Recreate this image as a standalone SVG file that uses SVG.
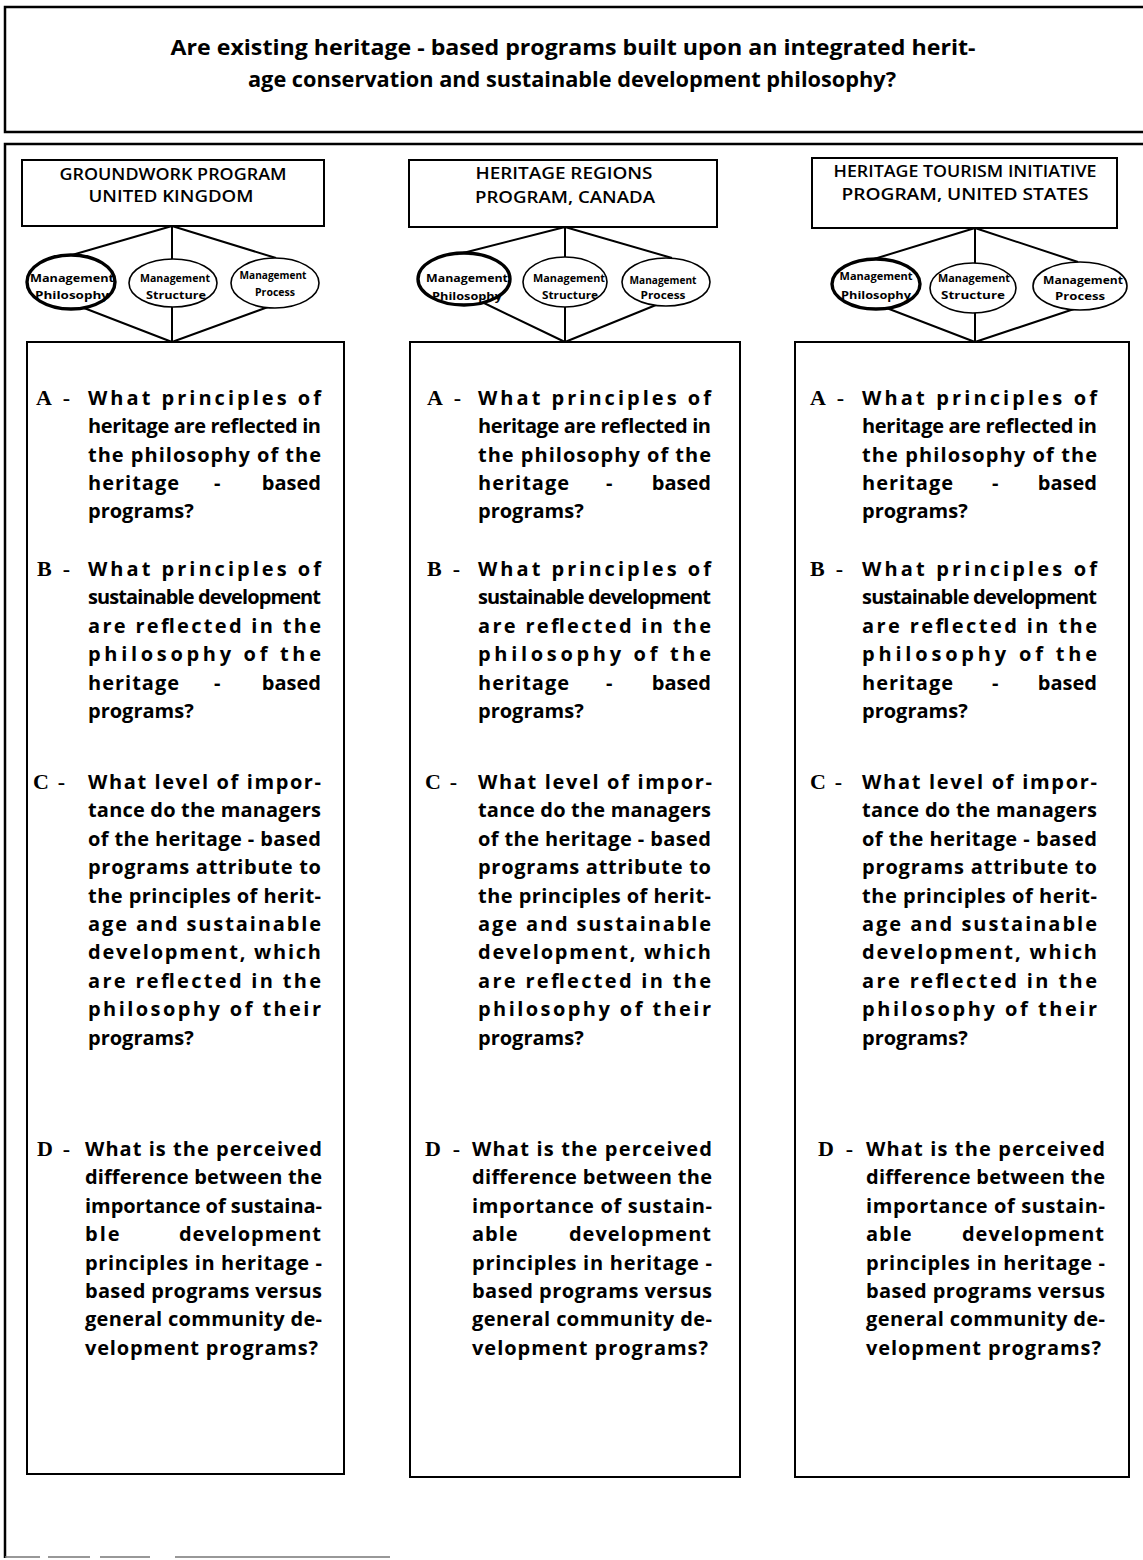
<svg xmlns="http://www.w3.org/2000/svg" width="1143" height="1560" viewBox="0 0 1143 1560">
  <style>
    .frame { fill: none; stroke: #000; stroke-width: 2.5; }
    .foot { fill: none; stroke: #777; stroke-width: 1.5; }
    .box { fill: #fff; stroke: #000; stroke-width: 2; }
    .ell { fill: #fff; stroke: #000; stroke-width: 1.6; }
    .ell.key { stroke-width: 3.4; }
    .link { fill: none; stroke: #000; stroke-width: 2; }
    text { fill: #000; }
    .title { font-family: "Open Sans", "Liberation Sans", sans-serif; font-weight: 700; font-size: 22px; text-anchor: middle; }
    .head { font-family: "Open Sans", "Liberation Sans", sans-serif; font-weight: 600; font-size: 16px; text-anchor: middle; }
    .el { font-family: "Open Sans", "Liberation Sans", sans-serif; font-weight: 700; font-size: 11px; text-anchor: middle; }
    .q { font-family: "Open Sans", "Liberation Sans", sans-serif; font-weight: 700; font-size: 20px; }
    .mk { font-family: "Liberation Serif", "Times New Roman", serif; font-weight: 700; font-size: 22px; }
  </style>

  <!-- outer frames -->
  <path class="frame" d="M1143,7 H5 V132 H1143"/>
  <path class="frame" d="M1143,144 H5 V1558"/>
  <path class="foot" d="M5,1557 H40 M48,1557 H90 M100,1557 H150 M175,1557 H390"/>

  <!-- main question -->
  <g id="question">
    <text class="title" x="573" y="55" textLength="805" lengthAdjust="spacingAndGlyphs">Are existing heritage - based programs built upon an integrated herit-</text>
    <text class="title" x="572" y="87" textLength="648" lengthAdjust="spacingAndGlyphs">age conservation and sustainable development philosophy?</text>
  </g>

  <!-- connectors: header to the three management aspects to the question box -->
  <g id="connectors">
    <path class="link" d="M172,226 L72,255 M172,226 V259 M172,226 L276,258"/>
    <path class="link" d="M84,308 L172,342 M172,306 V342 M268,307 L172,342"/>
    <path class="link" d="M565,227 L463,253 M565,227 V257 M565,227 L672,258"/>
    <path class="link" d="M484,303 L565,342 M565,307 V342 M656,305 L565,342"/>
    <path class="link" d="M975,228 L874,259 M975,228 V263 M975,228 L1078,262"/>
    <path class="link" d="M884,307 L975,342 M975,313 V342 M1074,309 L975,342"/>
  </g>

  <!-- ===== Column 1 : Groundwork, UK ===== -->
  <g id="groundwork-header">
    <rect class="box" x="22" y="160" width="302" height="66"/>
    <text class="head" x="173" y="180" textLength="227" lengthAdjust="spacingAndGlyphs">GROUNDWORK PROGRAM</text>
    <text class="head" x="171" y="202" textLength="165" lengthAdjust="spacingAndGlyphs">UNITED KINGDOM</text>
  </g>
  <g id="groundwork-philosophy">
    <ellipse class="ell key" cx="71" cy="282" rx="44" ry="27"/>
    <text class="el" x="72" y="282" textLength="84" lengthAdjust="spacingAndGlyphs">Management</text>
    <text class="el" x="72" y="299" textLength="74" lengthAdjust="spacingAndGlyphs">Philosophy</text>
  </g>
  <g id="groundwork-structure">
    <ellipse class="ell" cx="173" cy="283" rx="44" ry="24"/>
    <text class="el" x="175" y="282" textLength="70" lengthAdjust="spacingAndGlyphs">Management</text>
    <text class="el" x="176" y="299" textLength="60" lengthAdjust="spacingAndGlyphs">Structure</text>
  </g>
  <g id="groundwork-process">
    <ellipse class="ell" cx="275" cy="283" rx="44" ry="25"/>
    <text class="el" x="273" y="279" textLength="67" lengthAdjust="spacingAndGlyphs">Management</text>
    <text class="el" x="275" y="296" textLength="40" lengthAdjust="spacingAndGlyphs">Process</text>
  </g>
  <g id="groundwork-questions">
    <rect class="box" x="27" y="342" width="317" height="1132"/>
    <text class="mk" x="36" y="405" textLength="34" lengthAdjust="spacing">A -</text>
    <text class="q" x="88" y="405" textLength="233" lengthAdjust="spacing">What principles of</text>
    <text class="q" x="88" y="433" textLength="233" lengthAdjust="spacing">heritage are reflected in</text>
    <text class="q" x="88" y="462" textLength="233" lengthAdjust="spacing">the philosophy of the</text>
    <text class="q" y="490"><tspan x="88" letter-spacing="1">heritage</tspan><tspan x="214">-</tspan><tspan x="321" text-anchor="end">based</tspan></text>
    <text class="q" x="88" y="518">programs?</text>

    <text class="mk" x="37" y="576" textLength="33" lengthAdjust="spacing">B -</text>
    <text class="q" x="88" y="576" textLength="233" lengthAdjust="spacing">What principles of</text>
    <text class="q" x="88" y="604" textLength="233" lengthAdjust="spacing">sustainable development</text>
    <text class="q" x="88" y="633" textLength="233" lengthAdjust="spacing">are reflected in the</text>
    <text class="q" x="88" y="661" textLength="233" lengthAdjust="spacing">philosophy of the</text>
    <text class="q" y="690"><tspan x="88" letter-spacing="1">heritage</tspan><tspan x="214">-</tspan><tspan x="321" text-anchor="end">based</tspan></text>
    <text class="q" x="88" y="718">programs?</text>

    <text class="mk" x="33" y="789" textLength="32" lengthAdjust="spacing">C -</text>
    <text class="q" x="88" y="789" textLength="233" lengthAdjust="spacing">What level of impor-</text>
    <text class="q" x="88" y="817" textLength="233" lengthAdjust="spacing">tance do the managers</text>
    <text class="q" x="88" y="846" textLength="233" lengthAdjust="spacing">of the heritage - based</text>
    <text class="q" x="88" y="874" textLength="233" lengthAdjust="spacing">programs attribute to</text>
    <text class="q" x="88" y="903" textLength="233" lengthAdjust="spacing">the principles of herit-</text>
    <text class="q" x="88" y="931" textLength="233" lengthAdjust="spacing">age and sustainable</text>
    <text class="q" x="88" y="959" textLength="233" lengthAdjust="spacing">development, which</text>
    <text class="q" x="88" y="988" textLength="233" lengthAdjust="spacing">are reflected in the</text>
    <text class="q" x="88" y="1016" textLength="233" lengthAdjust="spacing">philosophy of their</text>
    <text class="q" x="88" y="1045">programs?</text>

    <text class="mk" x="37" y="1156" textLength="33" lengthAdjust="spacing">D -</text>
    <text class="q" x="85" y="1156" textLength="237" lengthAdjust="spacing">What is the perceived</text>
    <text class="q" x="85" y="1184" textLength="237" lengthAdjust="spacing">difference between the</text>
    <text class="q" x="85" y="1213" textLength="237" lengthAdjust="spacing">importance of sustaina-</text>
    <text class="q" y="1241"><tspan x="85" letter-spacing="2">ble</tspan><tspan x="322" text-anchor="end" letter-spacing="1">development</tspan></text>
    <text class="q" x="85" y="1270" textLength="237" lengthAdjust="spacing">principles in heritage -</text>
    <text class="q" x="85" y="1298" textLength="237" lengthAdjust="spacing">based programs versus</text>
    <text class="q" x="85" y="1326" textLength="237" lengthAdjust="spacing">general community de-</text>
    <text class="q" x="85" y="1355" textLength="233" lengthAdjust="spacing">velopment programs?</text>
  </g>

  <!-- ===== Column 2 : Heritage Regions, Canada ===== -->
  <g id="regions-header">
    <rect class="box" x="409" y="160" width="308" height="67"/>
    <text class="head" x="564" y="179" textLength="177" lengthAdjust="spacingAndGlyphs">HERITAGE  REGIONS</text>
    <text class="head" x="565" y="203" textLength="180" lengthAdjust="spacingAndGlyphs">PROGRAM, CANADA</text>
  </g>
  <g id="regions-philosophy">
    <ellipse class="ell key" cx="464" cy="279" rx="46" ry="26"/>
    <text class="el" x="467" y="282" textLength="82" lengthAdjust="spacingAndGlyphs">Management</text>
    <text class="el" x="467" y="300" textLength="70" lengthAdjust="spacingAndGlyphs">Philosophy</text>
  </g>
  <g id="regions-structure">
    <ellipse class="ell" cx="565" cy="282" rx="42" ry="25"/>
    <text class="el" x="569" y="282" textLength="72" lengthAdjust="spacingAndGlyphs">Management</text>
    <text class="el" x="570" y="299" textLength="56" lengthAdjust="spacingAndGlyphs">Structure</text>
  </g>
  <g id="regions-process">
    <ellipse class="ell" cx="666" cy="282" rx="44" ry="24"/>
    <text class="el" x="663" y="284" textLength="67" lengthAdjust="spacingAndGlyphs">Management</text>
    <text class="el" x="663" y="299" textLength="45" lengthAdjust="spacingAndGlyphs">Process</text>
  </g>
  <g id="regions-questions">
    <rect class="box" x="410" y="342" width="330" height="1135"/>
    <text class="mk" x="427" y="405" textLength="34" lengthAdjust="spacing">A -</text>
    <text class="q" x="478" y="405" textLength="233" lengthAdjust="spacing">What principles of</text>
    <text class="q" x="478" y="433" textLength="233" lengthAdjust="spacing">heritage are reflected in</text>
    <text class="q" x="478" y="462" textLength="233" lengthAdjust="spacing">the philosophy of the</text>
    <text class="q" y="490"><tspan x="478" letter-spacing="1">heritage</tspan><tspan x="606">-</tspan><tspan x="711" text-anchor="end">based</tspan></text>
    <text class="q" x="478" y="518">programs?</text>

    <text class="mk" x="427" y="576" textLength="33" lengthAdjust="spacing">B -</text>
    <text class="q" x="478" y="576" textLength="233" lengthAdjust="spacing">What principles of</text>
    <text class="q" x="478" y="604" textLength="233" lengthAdjust="spacing">sustainable development</text>
    <text class="q" x="478" y="633" textLength="233" lengthAdjust="spacing">are reflected in the</text>
    <text class="q" x="478" y="661" textLength="233" lengthAdjust="spacing">philosophy of the</text>
    <text class="q" y="690"><tspan x="478" letter-spacing="1">heritage</tspan><tspan x="606">-</tspan><tspan x="711" text-anchor="end">based</tspan></text>
    <text class="q" x="478" y="718">programs?</text>

    <text class="mk" x="425" y="789" textLength="32" lengthAdjust="spacing">C -</text>
    <text class="q" x="478" y="789" textLength="234" lengthAdjust="spacing">What level of impor-</text>
    <text class="q" x="478" y="817" textLength="233" lengthAdjust="spacing">tance do the managers</text>
    <text class="q" x="478" y="846" textLength="233" lengthAdjust="spacing">of the heritage - based</text>
    <text class="q" x="478" y="874" textLength="233" lengthAdjust="spacing">programs attribute to</text>
    <text class="q" x="478" y="903" textLength="233" lengthAdjust="spacing">the principles of herit-</text>
    <text class="q" x="478" y="931" textLength="233" lengthAdjust="spacing">age and sustainable</text>
    <text class="q" x="478" y="959" textLength="233" lengthAdjust="spacing">development, which</text>
    <text class="q" x="478" y="988" textLength="233" lengthAdjust="spacing">are reflected in the</text>
    <text class="q" x="478" y="1016" textLength="233" lengthAdjust="spacing">philosophy of their</text>
    <text class="q" x="478" y="1045">programs?</text>

    <text class="mk" x="425" y="1156" textLength="35" lengthAdjust="spacing">D -</text>
    <text class="q" x="472" y="1156" textLength="240" lengthAdjust="spacing">What is the perceived</text>
    <text class="q" x="472" y="1184" textLength="240" lengthAdjust="spacing">difference between the</text>
    <text class="q" x="472" y="1213" textLength="240" lengthAdjust="spacing">importance of sustain-</text>
    <text class="q" y="1241"><tspan x="472" letter-spacing="1">able</tspan><tspan x="712" text-anchor="end" letter-spacing="1">development</tspan></text>
    <text class="q" x="472" y="1270" textLength="240" lengthAdjust="spacing">principles in heritage -</text>
    <text class="q" x="472" y="1298" textLength="240" lengthAdjust="spacing">based programs versus</text>
    <text class="q" x="472" y="1326" textLength="240" lengthAdjust="spacing">general community de-</text>
    <text class="q" x="472" y="1355" textLength="236" lengthAdjust="spacing">velopment programs?</text>
  </g>

  <!-- ===== Column 3 : Heritage Tourism Initiative, USA ===== -->
  <g id="tourism-header">
    <rect class="box" x="812" y="158" width="305" height="70"/>
    <text class="head" x="965" y="177" textLength="263" lengthAdjust="spacingAndGlyphs">HERITAGE TOURISM INITIATIVE</text>
    <text class="head" x="965" y="200" textLength="247" lengthAdjust="spacingAndGlyphs">PROGRAM, UNITED STATES</text>
  </g>
  <g id="tourism-philosophy">
    <ellipse class="ell key" cx="876" cy="284" rx="44" ry="25"/>
    <text class="el" x="876" y="280" textLength="73" lengthAdjust="spacingAndGlyphs">Management</text>
    <text class="el" x="876" y="299" textLength="70" lengthAdjust="spacingAndGlyphs">Philosophy</text>
  </g>
  <g id="tourism-structure">
    <ellipse class="ell" cx="973" cy="288" rx="43" ry="25"/>
    <text class="el" x="974" y="282" textLength="72" lengthAdjust="spacingAndGlyphs">Management</text>
    <text class="el" x="973" y="299" textLength="64" lengthAdjust="spacingAndGlyphs">Structure</text>
  </g>
  <g id="tourism-process">
    <ellipse class="ell" cx="1080" cy="286" rx="47" ry="24"/>
    <text class="el" x="1083" y="284" textLength="80" lengthAdjust="spacingAndGlyphs">Management</text>
    <text class="el" x="1080" y="300" textLength="50" lengthAdjust="spacingAndGlyphs">Process</text>
  </g>
  <g id="tourism-questions">
    <rect class="box" x="795" y="342" width="334" height="1135"/>
    <text class="mk" x="810" y="405" textLength="34" lengthAdjust="spacing">A -</text>
    <text class="q" x="862" y="405" textLength="235" lengthAdjust="spacing">What principles of</text>
    <text class="q" x="862" y="433" textLength="235" lengthAdjust="spacing">heritage are reflected in</text>
    <text class="q" x="862" y="462" textLength="235" lengthAdjust="spacing">the philosophy of the</text>
    <text class="q" y="490"><tspan x="862" letter-spacing="1">heritage</tspan><tspan x="992">-</tspan><tspan x="1097" text-anchor="end">based</tspan></text>
    <text class="q" x="862" y="518">programs?</text>

    <text class="mk" x="810" y="576" textLength="33" lengthAdjust="spacing">B -</text>
    <text class="q" x="862" y="576" textLength="235" lengthAdjust="spacing">What principles of</text>
    <text class="q" x="862" y="604" textLength="235" lengthAdjust="spacing">sustainable development</text>
    <text class="q" x="862" y="633" textLength="235" lengthAdjust="spacing">are reflected in the</text>
    <text class="q" x="862" y="661" textLength="235" lengthAdjust="spacing">philosophy of the</text>
    <text class="q" y="690"><tspan x="862" letter-spacing="1">heritage</tspan><tspan x="992">-</tspan><tspan x="1097" text-anchor="end">based</tspan></text>
    <text class="q" x="862" y="718">programs?</text>

    <text class="mk" x="810" y="789" textLength="32" lengthAdjust="spacing">C -</text>
    <text class="q" x="862" y="789" textLength="235" lengthAdjust="spacing">What level of impor-</text>
    <text class="q" x="862" y="817" textLength="235" lengthAdjust="spacing">tance do the managers</text>
    <text class="q" x="862" y="846" textLength="235" lengthAdjust="spacing">of the heritage - based</text>
    <text class="q" x="862" y="874" textLength="235" lengthAdjust="spacing">programs attribute to</text>
    <text class="q" x="862" y="903" textLength="235" lengthAdjust="spacing">the principles of herit-</text>
    <text class="q" x="862" y="931" textLength="235" lengthAdjust="spacing">age and sustainable</text>
    <text class="q" x="862" y="959" textLength="235" lengthAdjust="spacing">development, which</text>
    <text class="q" x="862" y="988" textLength="235" lengthAdjust="spacing">are reflected in the</text>
    <text class="q" x="862" y="1016" textLength="235" lengthAdjust="spacing">philosophy of their</text>
    <text class="q" x="862" y="1045">programs?</text>

    <text class="mk" x="818" y="1156" textLength="35" lengthAdjust="spacing">D -</text>
    <text class="q" x="866" y="1156" textLength="239" lengthAdjust="spacing">What is the perceived</text>
    <text class="q" x="866" y="1184" textLength="239" lengthAdjust="spacing">difference between the</text>
    <text class="q" x="866" y="1213" textLength="239" lengthAdjust="spacing">importance of sustain-</text>
    <text class="q" y="1241"><tspan x="866" letter-spacing="1">able</tspan><tspan x="1105" text-anchor="end" letter-spacing="1">development</tspan></text>
    <text class="q" x="866" y="1270" textLength="239" lengthAdjust="spacing">principles in heritage -</text>
    <text class="q" x="866" y="1298" textLength="239" lengthAdjust="spacing">based programs versus</text>
    <text class="q" x="866" y="1326" textLength="239" lengthAdjust="spacing">general community de-</text>
    <text class="q" x="866" y="1355" textLength="235" lengthAdjust="spacing">velopment programs?</text>
  </g>
</svg>
